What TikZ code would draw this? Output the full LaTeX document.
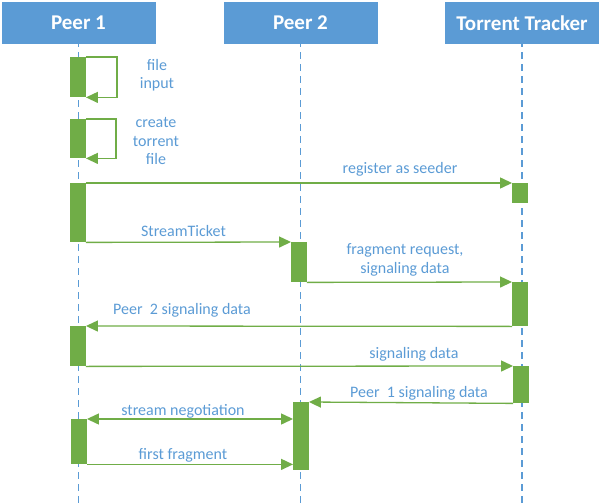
\documentclass[tikz,border=0pt]{standalone}
\usepackage{fontspec}
\setmainfont{Carlito}
\usetikzlibrary{arrows.meta, positioning, calc}
\definecolor{hdrblue}{HTML}{5B9BD5}
\definecolor{lblblue}{HTML}{5B9BD5}
\definecolor{actgreen}{HTML}{70AD47}
\tikzset{
  header/.style={fill=hdrblue, text=white, minimum width=154pt, minimum height=42pt, inner sep=0pt,
    font=\bfseries\fontsize{21}{25}\selectfont},
  lifeline/.style={draw=hdrblue, line width=1.3pt, dash pattern=on 7pt off 5pt, dash phase=4pt},
  act/.style={fill=actgreen, minimum width=15.5pt, inner sep=0pt, anchor=north},
  msg/.style={draw=actgreen, line width=1.3pt, -{Triangle[length=12pt, width=11pt]}},
  msgboth/.style={msg, {Triangle[length=12pt, width=11pt]}-{Triangle[length=12pt, width=11pt]}},
  lbl/.style={text=lblblue, align=center, inner sep=0pt, font=\fontsize{16}{18.5}\selectfont}
}
\begin{document}
\begin{tikzpicture}[x=1pt, y=-1pt]
    \useasboundingbox (0,0) rectangle (600,503);

    % participants
    \node[header] (p1) at (78.5,23) {Peer 1};
    \node[header] (p2) at (300.5,23) {Peer 2};
    \node[header] (tr) at (522,23) {Torrent Tracker};

    % lifelines
    \coordinate (p1end) at (p1.south |- 0,503);
    \coordinate (p2end) at (p2.south |- 0,503);
    \coordinate (trend) at (tr.south |- 0,503);
    \draw[lifeline] (p1.south) -- (p1end);
    \draw[lifeline] (p2.south) -- (p2end);
    \draw[lifeline] (tr.south) -- (trend);

    % activations
    \node[act, minimum height=40pt] (p1a) at (78,57) {};
    \node[act, minimum height=39pt] (p1b) at (78,119) {};
    \node[act, minimum height=59pt] (p1c) at (78,183) {};
    \node[act, minimum height=40pt] (p1d) at (78,326) {};
    \node[act, minimum height=45pt] (p1e) at (79,419) {};
    \node[act, minimum height=40pt] (p2a) at (299,242) {};
    \node[act, minimum height=68pt] (p2b) at (301,402) {};
    \node[act, minimum height=20pt] (tra) at (520,183) {};
    \node[act, minimum height=44pt] (trb) at (520,282) {};
    \node[act, minimum height=37pt] (trc) at (521,366) {};

    % messages
    \draw[msg] (p1a.north east) -- ++(31,0) |- (p1a.south east);
    \draw[msg] (p1b.north east) -- ++(30,0) |- (p1b.south east);
    \draw[msg] (p1c.north east) -- (tra.north west);
    \draw[msg] (p1c.south east) -- (p2a.north west);
    \draw[msg] (p2a.south east) -- (trb.north west);
    \draw[msg] (trb.south west) -- (p1d.north east);
    \draw[msg] (p1d.south east) -- (trc.north west);
    \draw[msg] (trc.south west) -- (p2b.north east);
    \draw[msgboth] (p1e.north east) -- (p1e.north east -| p2b.west);
    \draw[msg] (p1e.south east) -- (p1e.south east -| p2b.west);

    % labels
    \node[lbl] (lfile) at (157,75) {file\\input};
    \node[lbl] (lcreate) at (156,141) {create\\torrent\\file};
    \node[lbl] (lreg) at (400,169) {register as seeder};
    \node[lbl] (lticket) at (183.5,231) {StreamTicket};
    \node[lbl] (lfrag) at (405,260) {fragment request,\\signaling data};
    \node[lbl] (lp2sig) at (182,310) {Peer~~2 signaling data};
    \node[lbl] (lsig) at (414,354) {signaling data};
    \node[lbl] (lp1sig) at (419,393) {Peer~~1 signaling data};
    \node[lbl] (lneg) at (183,411) {stream negotiation};
    \node[lbl] (lfirst) at (183,455) {first fragment};
\end{tikzpicture}
\end{document}
